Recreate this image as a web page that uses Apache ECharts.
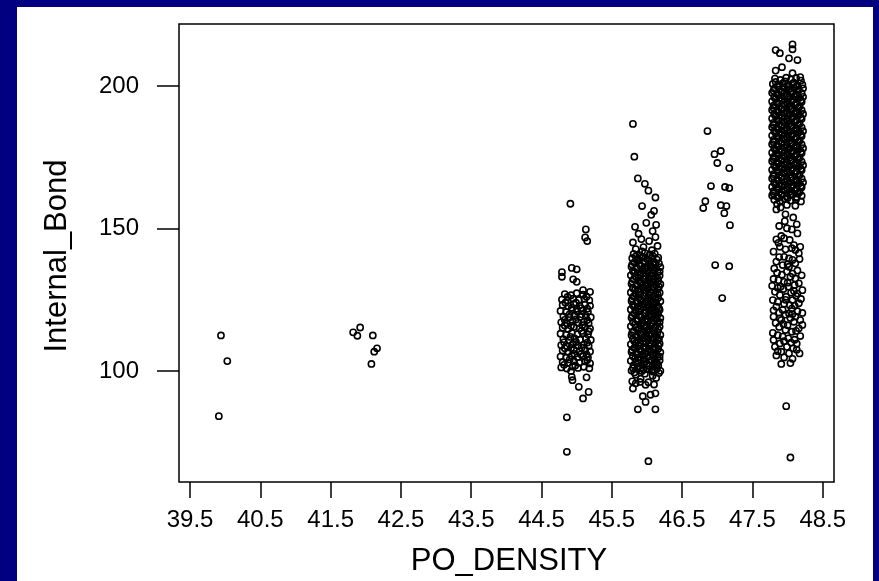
<!DOCTYPE html>
<html><head><meta charset="utf-8">
<script src="https://cdn.jsdelivr.net/npm/echarts@6/dist/echarts.min.js"></script>
<style>
html,body{margin:0;padding:0;background:#000080;width:879px;height:581px;overflow:hidden;}
#panel{position:absolute;left:17px;top:7px;width:856px;height:574px;background:#fff;}
#chart{position:absolute;left:0;top:0;width:879px;height:581px;}
</style></head>
<body><div id="panel"></div><div id="chart"></div>
<script>
const xTicks = [39.5, 40.5, 41.5, 42.5, 43.5, 44.5, 45.5, 46.5, 47.5, 48.5];
const yTicks = [100, 150, 200];
const xTitle = 'PO_DENSITY';
const yTitle = 'Internal_Bond';

const c40 = [[39.94,112.5],[40.03,103.5],[39.91,84.2]];
const c42 = [[41.82,113.6],[41.92,115.3],[41.88,112.4],[42.10,112.5],[42.16,108.0],[42.12,106.8],[42.08,102.5]];
const c45 = [
[44.78,101.3],[44.86,100.9],[44.94,101.6],[45.02,101.1],[45.10,101.5],[45.18,101.0],
[44.80,103.2],[44.88,102.8],[44.96,103.5],[45.04,102.9],[45.12,103.4],[45.19,102.7],
[44.77,105.1],[44.85,104.7],[44.93,105.4],[45.01,104.9],[45.09,105.3],[45.16,104.8],
[44.80,107.2],[44.88,106.8],[44.96,107.5],[45.04,107.0],[45.12,107.4],[45.19,106.9],
[44.78,109.1],[44.86,108.7],[44.94,109.4],[45.02,108.9],[45.10,109.3],[45.17,108.8],
[44.81,111.2],[44.89,110.8],[44.97,111.5],[45.05,111.0],[45.13,111.4],[45.20,110.9],
[44.77,113.1],[44.85,112.7],[44.93,113.4],[45.01,112.9],[45.09,113.3],[45.16,112.8],
[44.80,115.2],[44.88,114.8],[44.96,115.5],[45.04,115.0],[45.12,115.4],[45.19,114.9],
[44.78,117.1],[44.86,116.7],[44.94,117.4],[45.02,116.9],[45.10,117.3],[45.17,116.8],
[44.81,119.2],[44.89,118.8],[44.97,119.5],[45.05,119.0],[45.13,119.4],[45.20,118.9],
[44.77,121.1],[44.85,120.7],[44.93,121.4],[45.01,120.9],[45.09,121.3],[45.16,120.8],
[44.80,123.2],[44.88,122.8],[44.96,123.5],[45.04,123.0],[45.12,123.4],[45.19,122.9],
[44.79,125.1],[44.87,124.7],[44.95,125.4],[45.03,124.9],[45.11,125.3],[45.18,124.8],
[44.83,127.0],[44.92,126.6],[45.00,127.3],[45.09,126.8],
[44.90,104.1],[45.06,105.9],[44.83,108.0],[44.99,110.2],[45.15,110.0],[44.91,112.0],[45.07,114.1],[44.83,116.0],
[44.99,118.1],[45.15,117.9],[44.90,120.0],[45.06,122.1],[44.84,124.0],[45.00,121.9],[45.14,105.9],[44.97,106.0],
[44.82,102.2],[44.98,102.0],[45.15,103.9],[44.92,108.1],[45.07,108.2],[44.82,110.1],[45.17,114.0],[44.92,115.9],
[45.08,116.1],[44.83,118.0],[45.07,119.9],[44.93,122.2],[45.15,121.9],[44.99,124.0],[45.14,126.1],[44.87,126.0],
[44.79,134.7],[44.79,133.1],[44.93,136.2],[45.00,135.7],[44.95,132.2],[45.00,131.3],[45.09,128.4],[45.19,127.8],
[44.91,158.7],[45.13,149.7],[45.12,146.9],[45.15,145.6],
[44.92,100.0],[44.93,98.0],[44.94,96.8],[45.14,97.8],[45.03,94.5],[45.17,92.7],[45.09,90.4],[44.86,83.8],[44.86,71.7]
];
const c46 = [
[45.79,96.4],[45.91,97.3],[46.02,96.1],[46.13,97.6],[45.84,98.7],[45.97,99.1],[46.08,98.4],[46.17,99.3],
[45.78,100.2],[45.86,100.9],[45.93,100.0],[46.00,100.7],[46.07,100.3],[46.14,100.8],[46.19,100.1],
[45.81,102.1],[45.88,101.6],[45.95,102.4],[46.03,101.8],[46.10,102.5],[46.16,101.9],
[45.77,103.6],[45.84,103.2],[45.91,103.9],[45.98,103.4],[46.05,103.7],[46.12,103.1],[46.18,103.8],
[45.80,105.2],[45.87,104.8],[45.94,105.5],[46.01,105.0],[46.08,105.4],[46.15,104.9],
[45.78,106.7],[45.85,106.3],[45.92,106.9],[45.99,106.4],[46.06,106.8],[46.13,106.2],[46.19,106.6],
[45.82,108.1],[45.89,107.7],[45.96,108.4],[46.03,107.9],[46.10,108.3],[46.16,107.8],
[45.77,109.4],[45.84,109.9],[45.91,109.3],[45.98,109.8],[46.05,109.5],[46.12,110.0],[46.18,109.6],
[45.80,111.2],[45.87,110.8],[45.94,111.5],[46.01,111.0],[46.08,111.4],[46.15,110.9],
[45.78,112.6],[45.85,112.2],[45.92,112.9],[45.99,112.4],[46.06,112.8],[46.13,112.1],[46.19,112.7],
[45.81,114.0],[45.88,114.5],[45.95,113.8],[46.02,114.3],[46.09,114.1],[46.16,114.6],
[45.77,115.7],[45.84,115.3],[45.91,115.9],[45.98,115.4],[46.05,115.8],[46.12,115.2],[46.18,115.6],
[45.80,117.1],[45.87,117.6],[45.94,116.9],[46.01,117.4],[46.08,117.0],[46.15,117.5],
[45.78,118.7],[45.85,118.3],[45.92,118.9],[45.99,118.4],[46.06,118.8],[46.13,118.2],[46.19,118.6],
[45.82,120.2],[45.89,119.8],[45.96,120.5],[46.03,120.0],[46.10,120.4],[46.16,119.9],
[45.77,121.6],[45.84,121.2],[45.91,121.8],[45.98,121.3],[46.05,121.7],[46.12,121.1],[46.18,121.5],
[45.80,123.1],[45.87,122.7],[45.94,123.4],[46.01,122.9],[46.08,123.3],[46.15,122.8],
[45.78,124.6],[45.85,124.2],[45.92,124.8],[45.99,124.3],[46.06,124.7],[46.13,124.1],[46.19,124.5],
[45.81,126.2],[45.88,125.8],[45.95,126.4],[46.02,125.9],[46.09,126.3],[46.16,125.7],
[45.77,127.6],[45.84,127.2],[45.91,127.8],[45.98,127.3],[46.05,127.7],[46.12,127.1],[46.18,127.5],
[45.80,129.1],[45.87,128.7],[45.94,129.4],[46.01,128.9],[46.08,129.3],[46.15,128.8],
[45.78,130.6],[45.85,130.2],[45.92,130.8],[45.99,130.3],[46.06,130.7],[46.13,130.1],[46.19,130.5],
[45.81,132.2],[45.88,131.8],[45.95,132.4],[46.02,131.9],[46.09,132.3],[46.16,131.7],
[45.77,133.6],[45.84,133.2],[45.91,133.8],[45.98,133.3],[46.05,133.7],[46.12,133.1],[46.18,133.5],
[45.80,135.1],[45.87,134.7],[45.94,135.4],[46.01,134.9],[46.08,135.3],[46.15,134.8],
[45.78,136.6],[45.85,136.2],[45.92,136.8],[45.99,136.3],[46.06,136.7],[46.13,136.1],[46.19,136.5],
[45.82,138.1],[45.89,137.7],[45.96,138.4],[46.03,137.9],[46.10,138.3],[46.17,137.8],
[45.79,139.6],[45.86,139.2],[45.93,139.8],[46.00,139.3],[46.07,139.7],[46.14,139.1],
[45.81,141.1],[45.90,140.7],[45.97,141.4],[46.04,140.9],[46.11,141.2],
[45.82,99.5],[45.95,100.6],[46.09,99.8],[45.80,101.0],[45.91,101.2],[46.03,100.5],[46.14,102.3],
[45.83,104.4],[45.96,104.1],[46.10,104.3],[46.18,105.1],[45.79,107.4],[45.90,107.9],[46.01,107.2],[46.12,107.6],
[45.82,110.5],[45.95,110.3],[46.07,110.7],[46.17,111.3],[45.79,113.5],[45.90,113.2],[46.00,113.6],[46.11,113.3],
[45.83,116.4],[45.96,116.2],[46.07,116.5],[46.18,117.2],[45.79,119.5],[45.90,119.2],[46.02,119.3],[46.12,119.6],
[45.82,122.5],[45.95,122.3],[46.07,122.4],[46.17,122.1],[45.79,125.4],[45.90,125.2],[46.01,125.1],[46.12,125.3],
[45.83,128.4],[45.96,128.2],[46.07,128.5],[46.17,129.6],[45.79,131.4],[45.90,131.2],[46.01,131.0],[46.12,131.5],
[45.82,134.4],[45.95,134.2],[46.07,134.3],[46.18,134.9],[45.79,137.4],[45.90,137.2],[46.01,137.0],[46.12,137.5],
[45.84,140.2],[45.95,140.0],[46.08,140.4],
[45.87,102.9],[46.00,102.6],[46.14,103.0],[45.86,105.8],[45.97,106.0],[46.09,105.9],[45.88,108.9],[46.03,108.8],
[46.16,109.0],[45.86,111.9],[45.97,111.7],[46.10,111.8],[45.88,114.8],[46.03,114.9],[46.15,113.6],[45.86,117.9],
[45.97,117.8],[46.10,117.7],[45.88,120.9],[46.03,121.0],[46.15,120.6],[45.86,123.9],[45.97,123.7],[46.10,123.8],
[45.88,126.9],[46.03,126.8],[46.15,127.0],[45.86,129.9],[45.97,129.8],[46.10,129.7],[45.88,132.9],[46.03,132.8],
[46.15,132.6],[45.86,135.9],[45.97,135.8],[46.10,135.6],[45.88,138.9],[46.03,138.7],[46.16,139.8],[45.93,142.0],
[45.84,142.8],[45.95,143.5],[46.07,142.4],[46.15,143.9],[45.80,145.1],[45.92,146.3],[46.03,145.6],[46.12,147.0],
[45.88,148.2],[46.08,149.1],[45.83,150.6],[45.99,152.0],[46.13,151.3],[46.06,154.8],[45.93,157.9],[46.10,156.2],
[46.12,160.9],[46.02,163.3],[45.97,165.7],[45.87,167.6],[45.82,175.2],[45.80,186.7],
[45.80,93.9],[45.84,95.7],[45.90,96.2],[45.98,95.2],[46.10,95.3],[45.94,91.2],[46.05,91.7],[46.12,92.2],
[45.98,89.2],[45.87,86.6],[46.12,86.6],[46.02,68.4]
];
const c47 = [
[46.86,184.2],[46.96,176.1],[47.05,177.2],[47.17,171.2],[47.00,173.0],[46.91,164.9],[47.11,164.6],[47.17,164.2],
[46.83,159.6],[46.80,157.2],[47.05,158.2],[47.13,157.9],[47.10,155.4],[47.18,151.2],[46.97,137.2],[47.17,136.8],[47.07,125.6]
];
const c48 = [
[47.83,212.6],[47.89,211.5],[48.07,214.6],[48.07,212.9],[48.02,209.7],[48.14,209.1],[47.83,205.4],[47.92,206.6],[48.07,204.5],
[47.82,202.6],[47.90,202.1],[47.98,202.9],[48.05,202.3],[48.12,202.8],[48.19,201.9],
[47.79,200.7],[47.86,200.2],[47.93,200.9],[48.00,200.4],[48.07,200.8],[48.14,200.1],[48.21,200.5],
[47.81,199.1],[47.88,198.7],[47.95,199.4],[48.02,198.9],[48.09,199.3],[48.16,198.8],[48.22,199.2],
[47.78,197.6],[47.85,197.2],[47.92,197.8],[47.99,197.3],[48.06,197.7],[48.13,197.1],[48.20,197.5],
[47.81,196.1],[47.88,195.7],[47.95,196.4],[48.02,195.9],[48.09,196.3],[48.16,195.8],[48.22,196.2],
[47.78,194.6],[47.85,194.2],[47.92,194.8],[47.99,194.3],[48.06,194.7],[48.13,194.1],[48.20,194.5],
[47.80,193.1],[47.88,192.7],[47.95,193.4],[48.03,192.9],[48.10,193.3],[48.17,192.8],
[47.78,191.6],[47.85,191.2],[47.92,191.8],[47.99,191.3],[48.06,191.7],[48.13,191.1],[48.20,191.5],
[47.81,190.1],[47.88,189.7],[47.95,190.4],[48.02,189.9],[48.09,190.3],[48.16,189.8],[48.22,190.2],
[47.78,188.6],[47.85,188.2],[47.92,188.8],[47.99,188.3],[48.06,188.7],[48.13,188.1],[48.20,188.5],
[47.80,187.1],[47.88,186.7],[47.95,187.4],[48.03,186.9],[48.10,187.3],[48.17,186.8],
[47.78,185.6],[47.85,185.2],[47.92,185.8],[47.99,185.3],[48.06,185.7],[48.13,185.1],[48.20,185.5],
[47.81,184.1],[47.88,183.7],[47.95,184.4],[48.02,183.9],[48.09,184.3],[48.16,183.8],[48.22,184.2],
[47.78,182.6],[47.85,182.2],[47.92,182.8],[47.99,182.3],[48.06,182.7],[48.13,182.1],[48.20,182.5],
[47.80,181.1],[47.88,180.7],[47.95,181.4],[48.03,180.9],[48.10,181.3],[48.17,180.8],
[47.78,179.6],[47.85,179.2],[47.92,179.8],[47.99,179.3],[48.06,179.7],[48.13,179.1],[48.20,179.5],
[47.81,178.1],[47.88,177.7],[47.95,178.4],[48.02,177.9],[48.09,178.3],[48.16,177.8],[48.22,178.2],
[47.78,176.6],[47.85,176.2],[47.92,176.8],[47.99,176.3],[48.06,176.7],[48.13,176.1],[48.20,176.5],
[47.80,175.1],[47.88,174.7],[47.95,175.4],[48.03,174.9],[48.10,175.3],[48.17,174.8],
[47.78,173.6],[47.85,173.2],[47.92,173.8],[47.99,173.3],[48.06,173.7],[48.13,173.1],[48.20,173.5],
[47.81,172.1],[47.88,171.7],[47.95,172.4],[48.02,171.9],[48.09,172.3],[48.16,171.8],[48.22,172.2],
[47.78,170.6],[47.85,170.2],[47.92,170.8],[47.99,170.3],[48.06,170.7],[48.13,170.1],[48.20,170.5],
[47.80,169.1],[47.88,168.7],[47.95,169.4],[48.03,168.9],[48.10,169.3],[48.17,168.8],
[47.78,167.6],[47.85,167.2],[47.92,167.8],[47.99,167.3],[48.06,167.7],[48.13,167.1],[48.20,167.5],
[47.81,166.1],[47.88,165.7],[47.95,166.4],[48.02,165.9],[48.09,166.3],[48.16,165.8],[48.22,166.2],
[47.78,164.6],[47.85,164.2],[47.92,164.8],[47.99,164.3],[48.06,164.7],[48.13,164.1],[48.20,164.5],
[47.80,163.1],[47.88,162.7],[47.95,163.4],[48.03,162.9],[48.10,163.3],[48.17,162.8],
[47.78,161.6],[47.85,161.2],[47.92,161.8],[47.99,161.3],[48.06,161.7],[48.13,161.1],[48.20,161.5],
[47.81,160.1],[47.89,159.6],[47.96,160.4],[48.04,159.8],[48.12,160.2],[48.19,159.5],
[47.83,201.4],[47.96,201.6],[48.09,201.2],[48.18,203.1],[47.80,198.3],[47.91,198.1],[48.04,198.0],[48.15,198.4],
[47.83,195.4],[47.96,195.2],[48.08,195.3],[48.19,195.0],[47.80,192.3],[47.91,192.1],[48.04,192.0],[48.15,192.4],
[47.83,189.4],[47.96,189.2],[48.08,189.3],[48.19,189.0],[47.80,186.3],[47.91,186.1],[48.04,186.0],[48.15,186.4],
[47.83,183.4],[47.96,183.2],[48.08,183.3],[48.19,183.0],[47.80,180.3],[47.91,180.1],[48.04,180.0],[48.15,180.4],
[47.83,177.4],[47.96,177.2],[48.08,177.3],[48.19,177.0],[47.80,174.3],[47.91,174.1],[48.04,174.0],[48.15,174.4],
[47.83,171.4],[47.96,171.2],[48.08,171.3],[48.19,171.0],[47.80,168.3],[47.91,168.1],[48.04,168.0],[48.15,168.4],
[47.83,165.4],[47.96,165.2],[48.08,165.3],[48.19,165.0],[47.80,162.3],[47.91,162.1],[48.04,162.0],[48.15,162.4],
[47.87,199.9],[48.00,199.7],[48.12,199.8],[47.87,196.9],[48.00,196.7],[48.12,196.8],[47.87,193.9],[48.00,193.7],
[48.12,193.8],[47.87,190.9],[48.00,190.7],[48.12,190.8],[47.87,187.9],[48.00,187.7],[48.12,187.8],[47.87,184.9],
[48.00,184.7],[48.12,184.8],[47.87,181.9],[48.00,181.7],[48.12,181.8],[47.87,178.9],[48.00,178.7],[48.12,178.8],
[47.87,175.9],[48.00,175.7],[48.12,175.8],[47.87,172.9],[48.00,172.7],[48.12,172.8],[47.87,169.9],[48.00,169.7],
[48.12,169.8],[47.87,166.9],[48.00,166.7],[48.12,166.8],[47.87,163.9],[48.00,163.7],[48.12,163.8],[47.87,160.9],
[48.00,160.7],[48.12,160.8],
[47.85,158.6],[47.99,158.3],[48.11,158.0],
[47.84,156.7],[47.90,157.4],[47.97,155.0],[47.88,150.9],[47.99,150.1],[48.06,149.7],[48.14,148.3],[47.84,146.2],
[47.91,147.4],[47.87,145.0],[47.95,146.6],[47.80,141.9],[48.09,144.2],[48.18,143.6],[48.16,141.3],[48.11,142.5],
[47.95,140.1],[48.02,139.5],[47.84,138.4],[47.93,137.2],[47.81,136.0],[48.02,136.6],[48.11,137.8],
[47.80,132.3],[47.87,131.9],[47.95,131.3],[48.04,133.1],[48.11,132.5],[48.16,130.8],[48.21,128.4],[47.82,127.8],
[47.89,126.7],[47.98,126.1],[48.07,124.9],[48.16,123.8],[47.84,122.6],[47.93,121.4],[48.02,120.2],[48.11,119.1],
[47.80,119.1],[47.91,117.9],[48.00,116.1],[48.09,117.3],[48.18,117.9],[47.88,115.5],[47.97,114.4],[48.06,113.8],
[48.16,115.0],[47.80,110.9],[47.89,109.7],[47.99,108.5],[48.08,108.0],[48.17,106.2],[47.82,108.5],[47.91,106.8],
[48.02,106.2],[47.91,102.5],[48.04,102.8],[47.98,87.7],[48.04,69.7],
[47.85,134.5],[47.92,133.8],[47.99,134.9],[48.07,134.2],[48.14,135.3],[48.20,133.6],[47.78,129.9],[47.86,129.2],
[47.94,128.8],[48.01,129.6],[48.09,128.1],[48.14,127.2],[47.79,124.9],[47.86,124.3],[47.95,123.6],[48.03,123.1],
[48.12,126.4],[48.19,125.3],[47.80,121.3],[47.88,120.5],[47.97,119.8],[48.06,121.9],[48.14,121.0],[48.21,120.4],
[47.83,116.9],[47.94,116.5],[48.04,118.6],[48.12,114.1],[48.21,116.2],[47.79,113.4],[47.86,112.6],[47.93,112.1],
[48.01,111.5],[48.10,111.0],[48.18,112.3],[47.84,105.5],[47.95,104.8],[48.07,104.3],[48.13,109.6],[47.97,142.7],
[48.06,143.1],[47.89,143.6],[48.03,146.0],[48.13,151.5],[47.96,152.6],[48.08,153.9],
[48.00,131.0],[48.10,130.2],[47.90,129.6],[48.05,127.5],[47.97,125.0],[48.10,123.0],[47.89,118.5],[48.07,120.0],
[47.95,110.5],[48.05,110.0],[48.13,107.5],[47.86,107.0],[48.00,137.5],[47.88,140.0],[48.07,139.0],[48.17,139.3]
];

const allPoints = [].concat(c40, c42, c45, c46, c47, c48);
const FONT = 'Liberation Sans';

const chart = echarts.init(document.getElementById('chart'), null, {renderer: 'canvas'});
chart.setOption({
  backgroundColor: 'transparent',
  animation: false,
  grid: {left: 179, top: 24, width: 655, height: 458, show: true, borderColor: '#000', borderWidth: 1.5, backgroundColor: 'transparent'},
  xAxis: {
    type: 'value', min: 39.343, max: 48.66,
    axisLine: {show: false},
    splitLine: {show: false},
    axisTick: {show: true, length: 16, lineStyle: {color: '#000', width: 1.5}, customValues: xTicks},
    axisLabel: {show: true, margin: 26, color: '#000', fontSize: 24, fontFamily: FONT, customValues: xTicks, formatter: v => v.toFixed(1)}
  },
  yAxis: {
    type: 'value', min: 61.1, max: 221.75,
    axisLine: {show: false},
    splitLine: {show: false},
    axisTick: {show: true, length: 22, lineStyle: {color: '#000', width: 1.5}, customValues: yTicks},
    axisLabel: {show: true, margin: 40, color: '#000', fontSize: 24, fontFamily: FONT, customValues: yTicks, formatter: v => String(v)}
  },
  graphic: [
    {type: 'text', x: 509, y: 561, style: {text: xTitle, fontSize: 31, fontFamily: FONT, fill: '#000', align: 'center', verticalAlign: 'middle', textAlign: 'center', textVerticalAlign: 'middle'}},
    {type: 'text', x: 57, y: 256, rotation: Math.PI / 2, style: {text: yTitle, fontSize: 31, fontFamily: FONT, fill: '#000', align: 'center', verticalAlign: 'middle', textAlign: 'center', textVerticalAlign: 'middle'}}
  ],
  series: [{
    type: 'scatter',
    data: allPoints,
    symbol: 'circle',
    symbolSize: 6.2,
    itemStyle: {color: 'rgba(0,0,0,0)', borderColor: '#000', borderWidth: 1.6, opacity: 1},
    emphasis: {disabled: true},
    silent: true
  }]
});
</script>
</body></html>
